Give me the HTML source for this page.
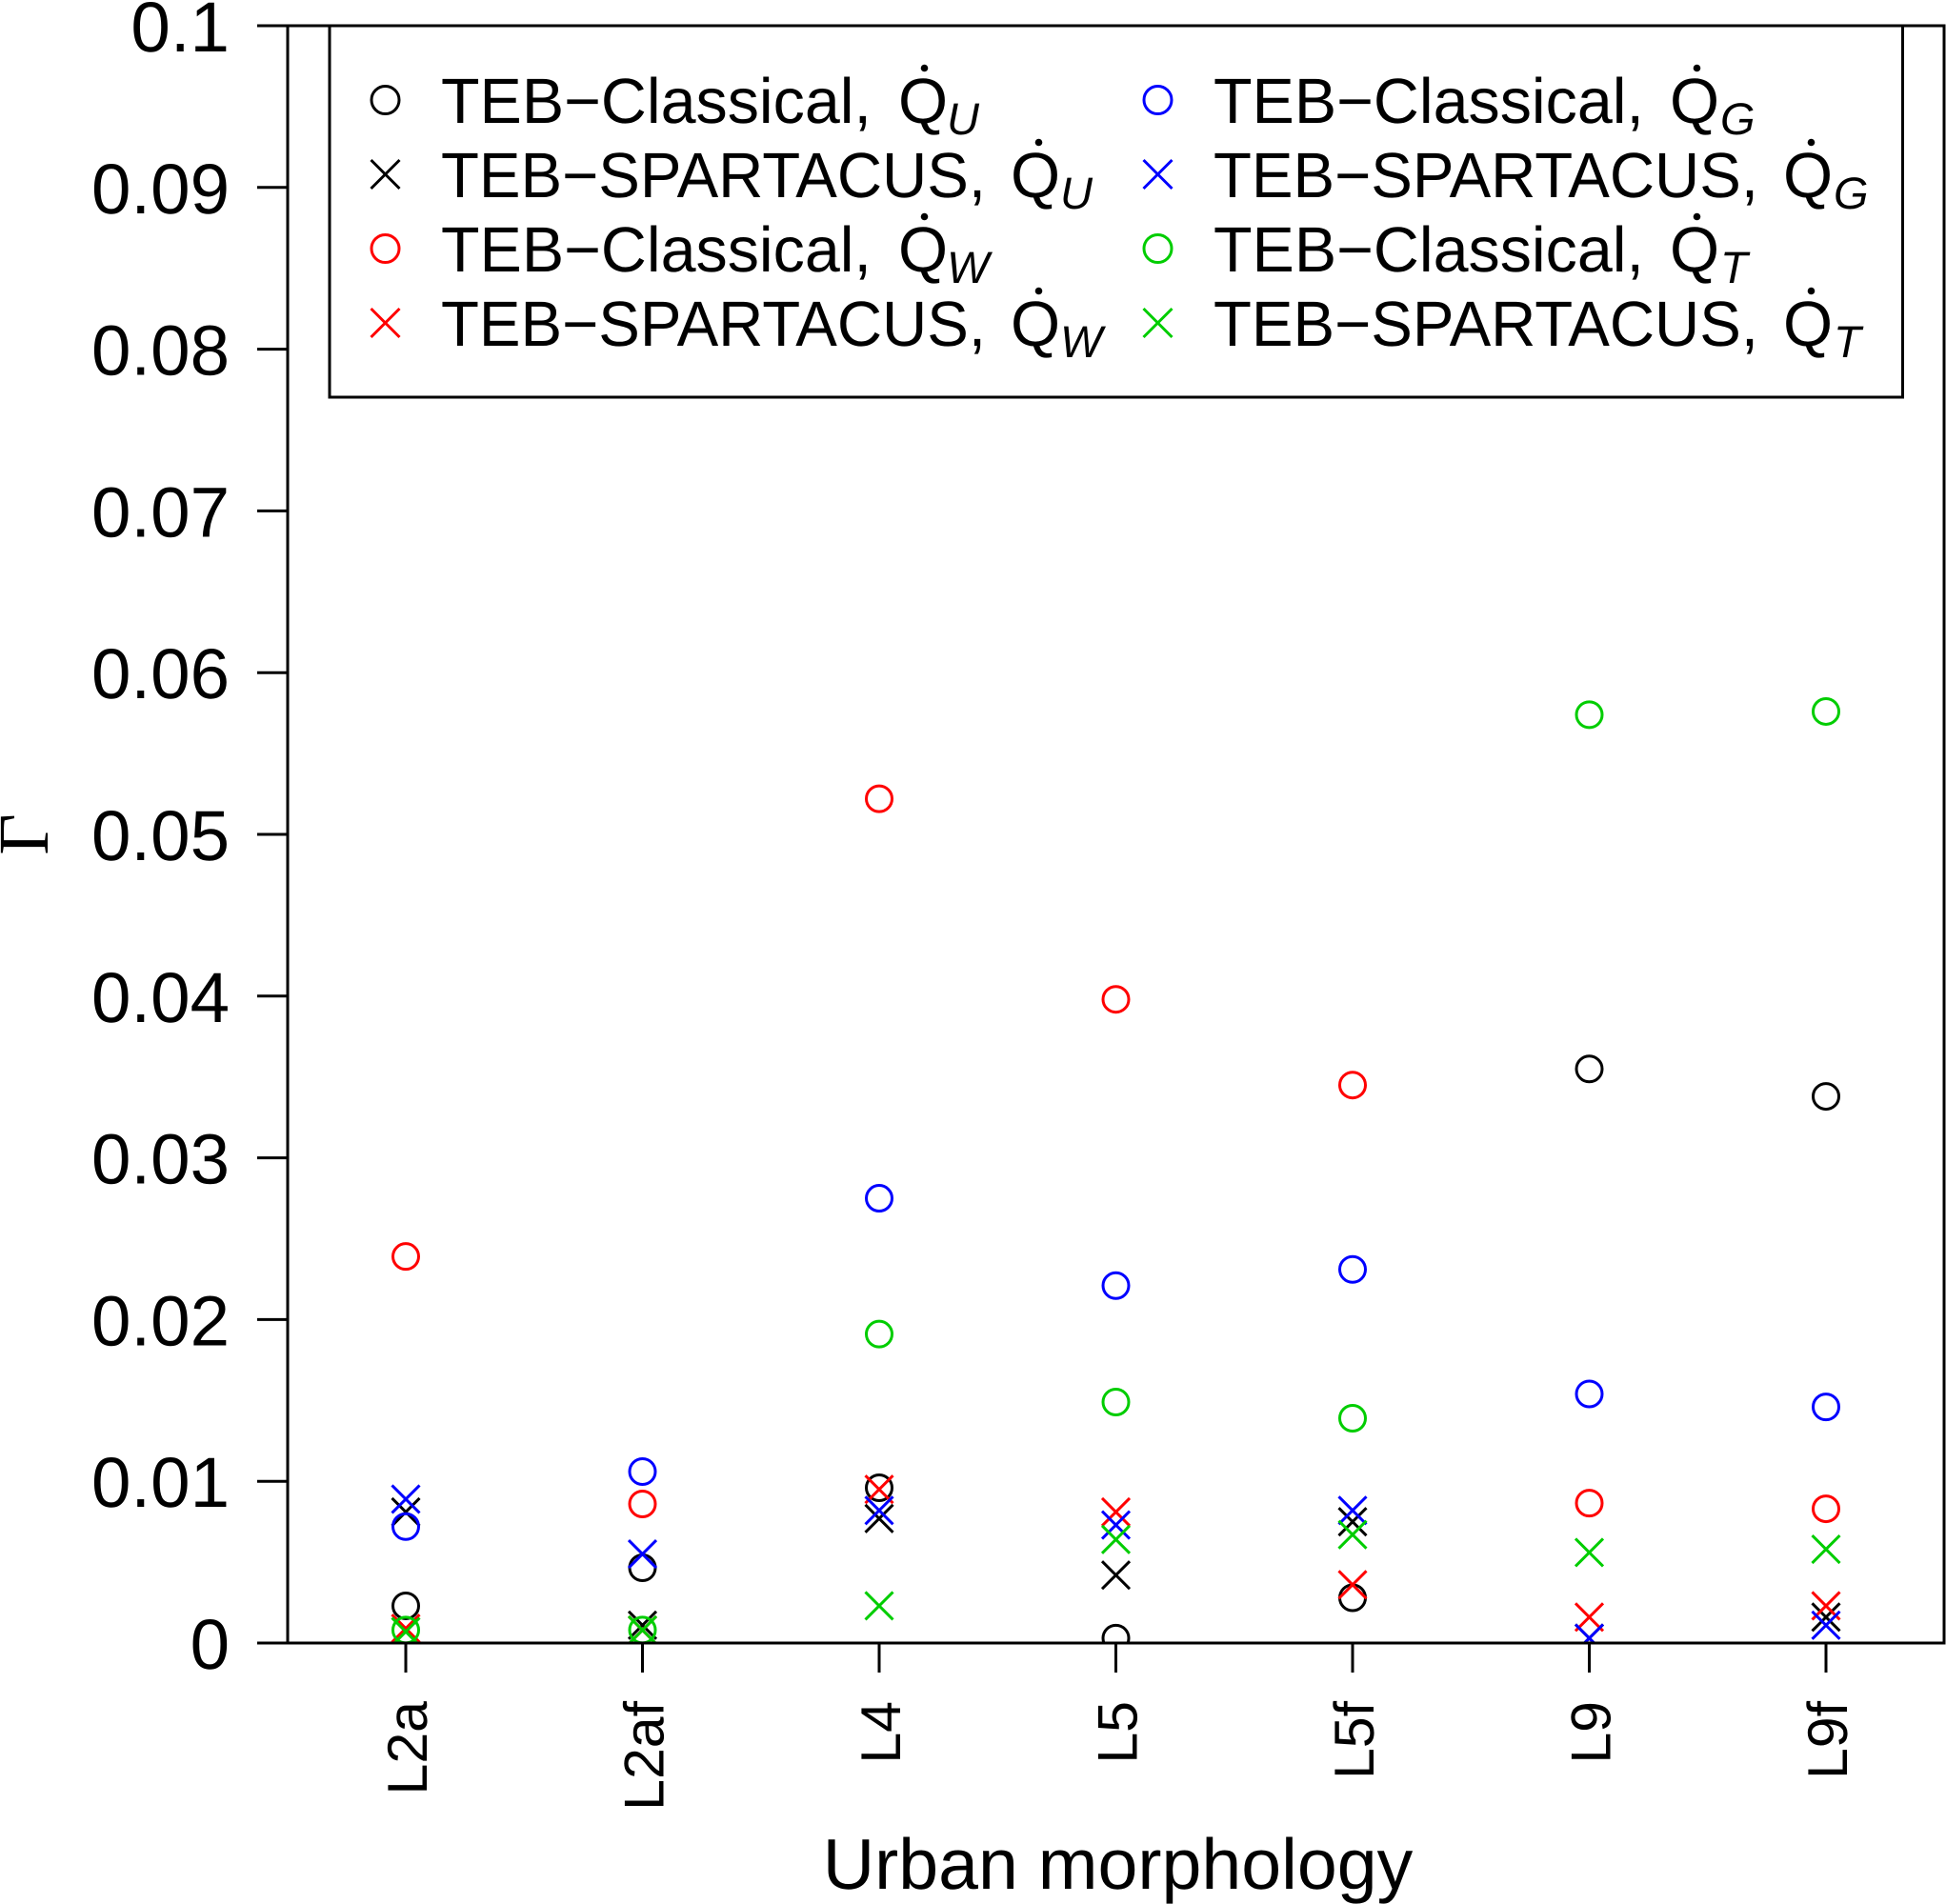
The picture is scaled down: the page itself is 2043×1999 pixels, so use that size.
<!DOCTYPE html>
<html lang="en">
<head>
<meta charset="utf-8">
<title>Urban morphology chart</title>
<style>
  html, body { margin: 0; padding: 0; background: #fff; }
  body { width: 2043px; height: 1999px; overflow: hidden; }
  svg { display: block; }
  text { font-family: "Liberation Sans", sans-serif; fill: #000; text-rendering: geometricPrecision; }
  .lg { font-size: 67px; }
  .sub { font-size: 47px; font-style: italic; }
</style>
</head>
<body>
<svg id="chart" xmlns="http://www.w3.org/2000/svg" width="2043" height="1999" viewBox="0 0 2043 1999">
  <defs>
    <clipPath id="plot-clip"><rect x="302" y="27" width="1739" height="1698"/></clipPath>
  </defs>
  <rect x="0" y="0" width="2043" height="1999" fill="#fff"/>
  <g id="ticks"></g>
  <g id="marks" clip-path="url(#plot-clip)"></g>
  <rect x="302" y="27" width="1739" height="1698" fill="none" stroke="#000" stroke-width="3"/>
  <text x="1173.5" y="1983" font-size="75.3" text-anchor="middle">Urban morphology</text>
  <text transform="translate(50,876) rotate(-90)" text-anchor="middle" font-size="75" style="font-family:'Liberation Serif',serif">Γ</text>

  <g>
    <rect x="346" y="27" width="1651.5" height="390" fill="#fff" stroke="#000" stroke-width="3"/>

    <g>
      <circle cx="404.5" cy="105" r="14.5" fill="none" stroke="#000" stroke-width="3"/>
      <text class="lg" x="463" y="129" textLength="452" lengthAdjust="spacingAndGlyphs">TEB−Classical,</text>
      <text class="lg" x="943" y="129">Q</text><circle cx="970.5" cy="71.5" r="3.8" fill="#000"/>
      <text class="sub" x="994" y="141">U</text>
    </g>
    <g>
      <path d="M389.5 168L419.5 198M419.5 168L389.5 198" fill="none" stroke="#000" stroke-width="3"/>
      <text class="lg" x="463" y="207" textLength="572" lengthAdjust="spacingAndGlyphs">TEB−SPARTACUS,</text>
      <text class="lg" x="1061" y="207">Q</text><circle cx="1090.5" cy="149.5" r="3.8" fill="#000"/>
      <text class="sub" x="1113" y="219">U</text>
    </g>
    <g>
      <circle cx="404.5" cy="261" r="14.5" fill="none" stroke="#f00" stroke-width="3"/>
      <text class="lg" x="463" y="285" textLength="452" lengthAdjust="spacingAndGlyphs">TEB−Classical,</text>
      <text class="lg" x="943" y="285">Q</text><circle cx="970.5" cy="227.5" r="3.8" fill="#000"/>
      <text class="sub" x="994" y="297">W</text>
    </g>
    <g>
      <path d="M389.5 324L419.5 354M419.5 324L389.5 354" fill="none" stroke="#f00" stroke-width="3"/>
      <text class="lg" x="463" y="363" textLength="572" lengthAdjust="spacingAndGlyphs">TEB−SPARTACUS,</text>
      <text class="lg" x="1061" y="363">Q</text><circle cx="1090.5" cy="305.5" r="3.8" fill="#000"/>
      <text class="sub" x="1113" y="375">W</text>
    </g>

    <g>
      <circle cx="1215.5" cy="105" r="14.5" fill="none" stroke="#00f" stroke-width="3"/>
      <text class="lg" x="1274" y="129" textLength="452" lengthAdjust="spacingAndGlyphs">TEB−Classical,</text>
      <text class="lg" x="1753" y="129">Q</text><circle cx="1781.5" cy="71.5" r="3.8" fill="#000"/>
      <text class="sub" x="1806" y="141">G</text>
    </g>
    <g>
      <path d="M1200.5 168L1230.5 198M1230.5 168L1200.5 198" fill="none" stroke="#00f" stroke-width="3"/>
      <text class="lg" x="1274" y="207" textLength="572" lengthAdjust="spacingAndGlyphs">TEB−SPARTACUS,</text>
      <text class="lg" x="1872" y="207">Q</text><circle cx="1901.5" cy="149.5" r="3.8" fill="#000"/>
      <text class="sub" x="1925" y="219">G</text>
    </g>
    <g>
      <circle cx="1215.5" cy="261" r="14.5" fill="none" stroke="#00cd00" stroke-width="3"/>
      <text class="lg" x="1274" y="285" textLength="452" lengthAdjust="spacingAndGlyphs">TEB−Classical,</text>
      <text class="lg" x="1753" y="285">Q</text><circle cx="1781.5" cy="227.5" r="3.8" fill="#000"/>
      <text class="sub" x="1806" y="297">T</text>
    </g>
    <g>
      <path d="M1200.5 324L1230.5 354M1230.5 324L1200.5 354" fill="none" stroke="#00cd00" stroke-width="3"/>
      <text class="lg" x="1274" y="363" textLength="572" lengthAdjust="spacingAndGlyphs">TEB−SPARTACUS,</text>
      <text class="lg" x="1872" y="363">Q</text><circle cx="1901.5" cy="305.5" r="3.8" fill="#000"/>
      <text class="sub" x="1925" y="375">T</text>
    </g>
  </g>
</svg>

<script>
const categories = ["L2a", "L2af", "L4", "L5", "L5f", "L9", "L9f"];
const yTicks = [0, 0.01, 0.02, 0.03, 0.04, 0.05, 0.06, 0.07, 0.08, 0.09, 0.1];
const yTickLabels = ["0", "0.01", "0.02", "0.03", "0.04", "0.05", "0.06", "0.07", "0.08", "0.09", "0.1"];

const classicalQU = [0.0023, 0.00465, 0.0096, 0.0003, 0.0028, 0.0355, 0.0338];
const spartacusQU = [0.0081, 0.0011, 0.0077, 0.0042, 0.0075, 0.0003, 0.0016];
const classicalQW = [0.0239, 0.0086, 0.0522, 0.0398, 0.0345, 0.00865, 0.0083];
const spartacusQW = [0.0009, 0.0008, 0.0095, 0.0081, 0.0036, 0.0016, 0.0023];
const classicalQG = [0.0072, 0.0106, 0.0275, 0.0221, 0.0231, 0.0154, 0.0146];
const spartacusQG = [0.0089, 0.0055, 0.0082, 0.0073, 0.0082, 0.0003, 0.0011];
const classicalQT = [0.0008, 0.0008, 0.0191, 0.0149, 0.0139, 0.0574, 0.0576];
const spartacusQT = [0.0007, 0.0008, 0.0023, 0.0064, 0.0067, 0.0056, 0.0058];

const NS = "http://www.w3.org/2000/svg";

function xScale(i) { return 426 + 248.5 * i; }
function yScale(v) { return 1725 - v * 16980; }

function make(tag, attrs, parent) {
  const el = document.createElementNS(NS, tag);
  for (const k in attrs) el.setAttribute(k, attrs[k]);
  parent.appendChild(el);
  return el;
}

const ticksGroup = document.getElementById("ticks");
const marksGroup = document.getElementById("marks");

yTicks.forEach(function (v, i) {
  const y = yScale(v);
  const tick = make("line", { x1: 270, x2: 302, y1: y, y2: y, stroke: "#000", "stroke-width": 3 }, ticksGroup);
  
  
  const label = make("text", { x: 241, y: y + 27, "text-anchor": "end", "font-size": 74.5 }, ticksGroup);
  
  
  label.textContent = yTickLabels[i];
});

categories.forEach(function (c, i) {
  const x = xScale(i);
  const tick = make("line", { x1: x, x2: x, y1: 1725, y2: 1756, stroke: "#000", "stroke-width": 3 }, ticksGroup);
  
  
  const label = make("text", {
    transform: "translate(" + (x + 22) + ",1786) rotate(-90)",
    "text-anchor": "end",
    "font-size": 59
  }, ticksGroup);
  
  
  label.textContent = c;
});

function drawCircles(values, color) {
  values.forEach(function (v, i) {
    const m = make("circle", { cx: xScale(i), cy: yScale(v), r: 13.5, fill: "none", stroke: color, "stroke-width": 3 }, marksGroup);
    
    
  });
}

function drawCrosses(values, color) {
  values.forEach(function (v, i) {
    const x = xScale(i), y = yScale(v), h = 14.5;
    const d = "M" + (x - h) + " " + (y - h) + "L" + (x + h) + " " + (y + h) +
              "M" + (x + h) + " " + (y - h) + "L" + (x - h) + " " + (y + h);
    const m = make("path", { d: d, fill: "none", stroke: color, "stroke-width": 3 }, marksGroup);
    
    
  });
}

drawCircles(classicalQU, "#000");
drawCrosses(spartacusQU, "#000");
drawCircles(classicalQW, "#f00");
drawCrosses(spartacusQW, "#f00");
drawCircles(classicalQG, "#00f");
drawCrosses(spartacusQG, "#00f");
drawCircles(classicalQT, "#00cd00");
drawCrosses(spartacusQT, "#00cd00");
</script>
</body>
</html>
